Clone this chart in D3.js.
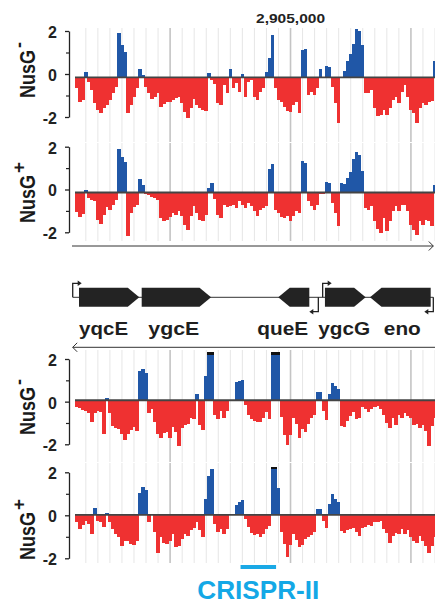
<!DOCTYPE html>
<html>
<head>
<meta charset="utf-8">
<script src="https://cdn.jsdelivr.net/npm/d3@7"></script>
<style>
body{margin:0;background:#fff;}
svg{display:block;font-family:"Liberation Sans",Arial,Helvetica,sans-serif;font-weight:bold;}
</style>
</head>
<body>
<svg width="435" height="605"></svg>
<script>
//Data: log2 ratio per 25 bp bin, starting at binStart
const binStart = 2903210;
const binWidth = 25;
const xDomain = [2903210, 2906200];

const topNusGminus = [
 -0.5,-1.16,-1.05,0.25,-0.2,-0.6,-1.2,-1.5,-1.67,-1.45,
 -1.3,-1.05,-0.75,-0.45,2.05,1.5,1.2,-1.67,-1.3,-0.9,
 -0.5,0.4,0.1,-0.43,-0.75,-1.0,-0.9,-0.75,-1.36,-1.25,
 -1.16,-1.16,-1.05,-0.95,-0.9,-1.2,-1.63,-1.88,-1.45,-1.0,
 -1.3,-1.45,-1.52,-1.57,0.18,-0.12,-0.33,-1.2,-1.3,-0.36,
 -0.75,0.37,-0.5,-0.28,-0.67,0.15,-0.9,-0.2,-0.12,-0.9,
 -1.05,-0.67,-0.5,0.25,0.9,1.95,-0.5,-1.05,-1.16,-1.36,
 -1.57,-1.6,-1.3,-1.13,-1.67,1.27,1.3,-0.82,-0.67,-0.82,
 -0.5,0.37,-0.05,0.53,0.5,-0.43,-1.2,-2.14,-0.05,0.3,
 0.75,1.1,1.55,2.25,2.15,1.5,-0.75,-0.75,-0.6,-1.45,
 -1.78,-1.75,-1.52,-1.75,-1.45,-1.05,-0.9,-1.2,-0.67,-0.36,
 -0.9,-1.52,-1.67,-2.14,-1.45,-1.2,-1.3,-1.16,-1.1,0.75
];
const topNusGplus = [
 -0.9,-1.16,-1.0,0.1,-0.26,-0.34,-0.42,-1.27,-1.47,-1.04,
 -0.7,-0.8,-0.57,-0.34,2.05,1.67,1.44,-2.05,-0.96,-0.7,
 -0.57,0.62,0.35,-0.08,-0.14,-0.19,-0.26,-0.34,-1.2,-1.35,
 -1.27,-1.16,-0.96,-1.04,-0.88,-1.1,-1.5,-1.74,-1.1,-0.65,
 -0.96,-1.27,-1.35,-1.04,0.2,0.43,-0.3,-1.04,-1.2,-0.57,
 -0.7,-0.65,-0.57,-0.73,-0.42,-0.57,-0.73,-0.5,-0.65,-0.88,
 -1.1,-0.8,-0.73,-0.65,1.1,1.33,-0.8,-0.96,-1.16,-1.2,
 -1.1,-1.35,-1.1,-0.88,-0.96,1.47,1.4,-0.42,-0.65,-0.8,
 -0.57,-0.05,-0.05,0.51,0.45,-0.5,-0.96,-1.58,0.43,0.4,
 0.67,0.98,1.55,1.9,1.75,1.0,-0.73,-0.8,-0.65,-1.35,
 -1.69,-1.89,-1.2,-1.81,-1.35,-0.88,-0.65,-0.88,-0.57,-0.57,
 -0.88,-1.5,-1.74,-1.97,-1.35,-1.5,-1.27,-1.35,-1.58,0.36
];
const botNusGminus = [
 -0.3,-0.38,-0.45,-0.5,-0.6,-1.0,-0.62,-0.5,-0.55,-1.6,
 0.12,-0.6,-1.2,-1.3,-1.35,-1.6,-1.86,-1.6,-1.4,-1.25,
 -1.45,1.35,1.45,1.3,-0.62,-0.4,-1.0,-1.6,-1.75,-1.55,
 -1.5,-1.75,-1.25,-1.5,-2.15,-1.3,-1.15,-1.1,-0.85,-0.9,
 0.28,-1.15,-1.4,1.16,2.6,2.6,-0.7,-0.9,-0.5,-0.85,
 -0.5,0,0,0.85,0.9,0.95,-0.2,-0.7,-0.9,-0.95,
 -1.0,-1.04,-0.85,-0.55,-0.9,2.6,2.6,2.6,-0.8,-1.63,
 -2.1,-1.63,-0.85,-1.1,-1.78,-1.35,-1.5,-1.1,-0.85,-0.7,
 0.39,0.39,-0.5,-0.93,0.3,0.8,0.65,0.55,-1.2,-1.25,
 -0.95,-0.75,-0.55,-0.9,-0.85,-0.3,-0.4,-0.55,-0.4,-0.32,
 -0.25,-0.4,-0.7,-1.05,-1.3,-0.85,-1.15,-0.7,-0.85,-0.62,
 -0.75,-0.85,-1.15,-1.1,-1.32,-1.15,-1.45,-2.15,-1.2,-0.85
];
const botNusGplus = [
 -0.35,-0.67,-0.45,-0.3,-0.4,-0.9,0.3,-0.3,-0.35,-0.55,
 0.08,-0.35,-0.65,-0.9,-1.05,-1.44,-1.2,-1.2,-1.35,-1.4,
 -1.2,1.0,1.3,1.15,-0.35,0.06,-0.8,-1.75,-1.05,-1.3,
 -1.35,-1.2,-0.9,-1.5,-1.45,-1.1,-0.9,-0.98,-0.7,-0.6,
 -0.35,-0.7,-1.05,0.73,1.81,2.12,-0.4,-0.8,-0.67,-0.9,
 -0.65,0,0,0.45,0.6,0.68,-0.2,-0.55,-0.85,-0.95,
 -0.9,-1.05,-0.9,-0.65,-0.5,2.3,2.3,1.25,-0.8,-1.35,
 -1.95,-1.4,-0.9,-1.15,-1.5,-1.4,-1.1,-1.05,-0.95,-0.8,
 0.26,0.26,-0.3,-0.6,0.5,0.95,0.75,0.6,-0.75,-0.85,
 -0.7,-0.65,-0.6,-0.8,-1.0,-0.6,-0.55,-0.45,-0.5,-0.35,
 -0.35,-0.3,-0.65,-0.85,-1.3,-0.98,-0.82,-0.9,-0.67,-0.9,
 -0.72,-1.05,-1.2,-1.3,-1.0,-1.2,-1.45,-1.75,-1.45,-1.05
];
const yTicks = [-2, 0, 2];
const yMinorTicks = [-1, 1];

//Genes
const geneNames = ['yqcE', 'ygcE', 'queE', 'ygcG', 'eno'];
const geneStart = [2903243, 2903764, 2904898, 2905286, 2905660];
const geneEnd = [2903744, 2904340, 2905156, 2905624, 2906164];
const geneStrand = ['+', '+', '-', '+', '-'];
const promoterPos = [2903191, 2905231, 2905267, 2906186];
const promoterStrand = ['+', '-', '+', '-'];
const crisprRange = [2904585, 2904880];
const markPos = 2905000;

//Layout
const blue = '#2057a7', red = '#ef3131';
const clipMax = 2.25;
const panels = [
    {values: topNusGminus, sup: '-', top: 31, bottom: 117, shift: 3.3, gTop: 28, gBot: 142, labY: 98},
    {values: topNusGplus, sup: '+', top: 146.7, bottom: 232.3, shift: 3, gTop: 143, gBot: 241, labY: 223},
    {values: botNusGminus, sup: '-', top: 359, bottom: 444.3, shift: -1.4, gTop: 350, gBot: 462, labY: 435},
    {values: botNusGplus, sup: '+', top: 472.3, bottom: 558.3, shift: -0.4, gTop: 463, gBot: 563, labY: 560}
];
const geneLabelDx = [-5.5, -2.6, -11, -1, 2];
const geneLabelW = [49, 51, 51, 52, 37];

const svg = d3.select('svg');
svg.append('defs').append('clipPath').attr('id', 'plotclip')
    .append('rect').attr('x', 75).attr('y', 0).attr('width', 360).attr('height', 605);

const xScale = d3.scaleLinear().domain(xDomain).range([75, 435]);
const grid = xScale.ticks(30);

panels.forEach(p => {
    const y = d3.scaleLinear().domain([-2, 2]).range([p.bottom, p.top]);
    const g = svg.append('g');
    //grid lines
    g.append('g').selectAll('line')
        .data(grid)
        .join('line')
        .attr('x1', d => xScale(d)).attr('x2', d => xScale(d))
        .attr('y1', p.gTop).attr('y2', p.gBot)
        .attr('stroke', d => d % 1000 === 0 ? '#c4c4c4' : '#e6e6e6')
        .attr('stroke-width', d => d % 1000 === 0 ? 1.6 : 1);

    const base = y(0) + p.shift;
    const vy = v => y(Math.min(v, clipMax)) + p.shift;
    const bx = i => xScale(binStart + i * binWidth);
    const bars = g.append('g').attr('clip-path', 'url(#plotclip)').attr('shape-rendering', 'crispEdges');
    bars.selectAll('rect')
        .data(p.values.map((v, i) => ({v, i})).filter(d => d.v !== 0))
        .join('rect')
        .attr('x', d => bx(d.i))
        .attr('width', d => bx(d.i + 1) - bx(d.i) + 0.5)
        .attr('y', d => d.v > 0 ? vy(d.v) : base)
        .attr('height', d => Math.abs(vy(d.v) - base))
        .attr('fill', d => d.v > 0 ? blue : red);
    //overflow caps
    bars.selectAll('rect.cap')
        .data(p.values.map((v, i) => ({v, i})).filter(d => d.v > clipMax))
        .join('rect')
        .attr('class', 'cap')
        .attr('x', d => bx(d.i))
        .attr('width', d => bx(d.i + 1) - bx(d.i) + 0.5)
        .attr('y', vy(clipMax))
        .attr('height', 2.5)
        .attr('fill', '#111');
    //baseline
    g.append('line')
        .attr('x1', 75).attr('x2', 435)
        .attr('y1', base).attr('y2', base)
        .attr('stroke', '#444').attr('stroke-width', 1.8);

    //Axes
    const axis = d3.axisLeft(y).tickValues(yTicks).tickSize(4).tickSizeOuter(0)
        .tickPadding(8).tickFormat(d => String(d));
    const ag = g.append('g').attr('transform', 'translate(69,0)').call(axis);
    ag.attr('font-family', null).attr('font-size', 16);
    ag.select('.domain').attr('stroke', '#222').attr('stroke-width', 1.3);
    ag.selectAll('.tick line').attr('stroke', '#222').attr('stroke-width', 1.3);
    ag.selectAll('.tick text').attr('fill', '#222').attr('dy', '0.4em');
    const mg = g.append('g').attr('transform', 'translate(69,0)')
        .call(d3.axisLeft(y).tickValues(yMinorTicks).tickSize(3).tickFormat(''));
    mg.select('.domain').remove();
    mg.selectAll('.tick line').attr('stroke', '#222').attr('stroke-width', 1.2);

    //Label
    const lab = svg.append('g').attr('transform', 'translate(35,' + p.labY + ') rotate(-90)');
    lab.append('text').attr('font-size', 22).attr('fill', '#1a1a1a')
        .attr('textLength', 48).attr('lengthAdjust', 'spacingAndGlyphs').text('NusG');
    lab.append('text').attr('x', 50).attr('y', p.sup === '+' ? -10.5 : -10)
        .attr('font-size', p.sup === '+' ? 19 : 18).attr('fill', '#1a1a1a').text(p.sup);
});

//coordinate label
svg.append('text').attr('x', xScale(markPos)).attr('y', 23)
    .attr('text-anchor', 'middle').attr('font-size', 13.5).attr('fill', '#222')
    .attr('textLength', 69).attr('lengthAdjust', 'spacingAndGlyphs')
    .text(d3.format(',')(markPos));

//Direction arrows
const arrows = svg.append('g').attr('stroke', '#333').attr('stroke-width', 1).attr('fill', 'none');
arrows.append('path').attr('d', 'M72,246H433.3M428.8,241.5L433.3,246L428.8,250.5');
arrows.append('path').attr('d', 'M435,347.3H72.7M77.2,342.8L72.7,347.3L77.2,351.8');

//Gene map
const yc = 297.3, gh = 19, head = 11.5;
const gm = svg.append('g');
gm.append('line')
    .attr('x1', xScale(promoterPos[0])).attr('x2', xScale(promoterPos[3]))
    .attr('y1', yc).attr('y2', yc)
    .attr('stroke', '#333').attr('stroke-width', 1);
gm.selectAll('path.gene')
    .data(geneNames.map((n, i) => ({n, s: geneStart[i], e: geneEnd[i], st: geneStrand[i], i})))
    .join('path')
    .attr('class', 'gene')
    .attr('d', d => {
        const x0 = xScale(d.s), x1 = xScale(d.e), t = yc - gh / 2, b = yc + gh / 2;
        return d.st === '+'
            ? `M${x0},${t}L${x1 - head},${t}L${x1},${yc}L${x1 - head},${b}L${x0},${b}Z`
            : `M${x1},${t}L${x0 + head},${t}L${x0},${yc}L${x0 + head},${b}L${x1},${b}Z`;
    })
    .attr('fill', '#232323');
gm.selectAll('text.gname')
    .data(geneNames.map((n, i) => ({n, i})))
    .join('text')
    .attr('class', 'gname')
    .attr('x', d => (xScale(geneStart[d.i]) + xScale(geneEnd[d.i])) / 2 + geneLabelDx[d.i])
    .attr('y', 335)
    .attr('text-anchor', 'middle')
    .attr('font-size', 18)
    .attr('fill', '#1e1e1e')
    .attr('textLength', d => geneLabelW[d.i])
    .attr('lengthAdjust', 'spacingAndGlyphs')
    .text(d => d.n);
//promoters
promoterPos.forEach((pos, i) => {
    const x = xScale(pos), dir = promoterStrand[i] === '+' ? 1 : -1;
    const yEnd = promoterStrand[i] === '+' ? yc - 14 : yc + 14.4;
    gm.append('path')
        .attr('d', `M${x},${yc}V${yEnd}H${x + dir * 5.5}`)
        .attr('stroke', '#222').attr('stroke-width', 1.3).attr('fill', 'none');
    gm.append('path')
        .attr('d', `M${x + dir * 5},${yEnd - 2.7}L${x + dir * 9},${yEnd}L${x + dir * 5},${yEnd + 2.7}Z`)
        .attr('fill', '#222');
});

//CRISPR-II region
svg.append('rect')
    .attr('x', xScale(crisprRange[0])).attr('width', xScale(crisprRange[1]) - xScale(crisprRange[0]))
    .attr('y', 565).attr('height', 4)
    .attr('fill', '#1aa9e6');
svg.append('text')
    .attr('x', (xScale(crisprRange[0]) + xScale(crisprRange[1])) / 2)
    .attr('y', 599)
    .attr('text-anchor', 'middle')
    .attr('font-size', 26)
    .attr('fill', '#14a8e6')
    .attr('textLength', 122).attr('lengthAdjust', 'spacingAndGlyphs')
    .text('CRISPR-II');
</script>
</body>
</html>
